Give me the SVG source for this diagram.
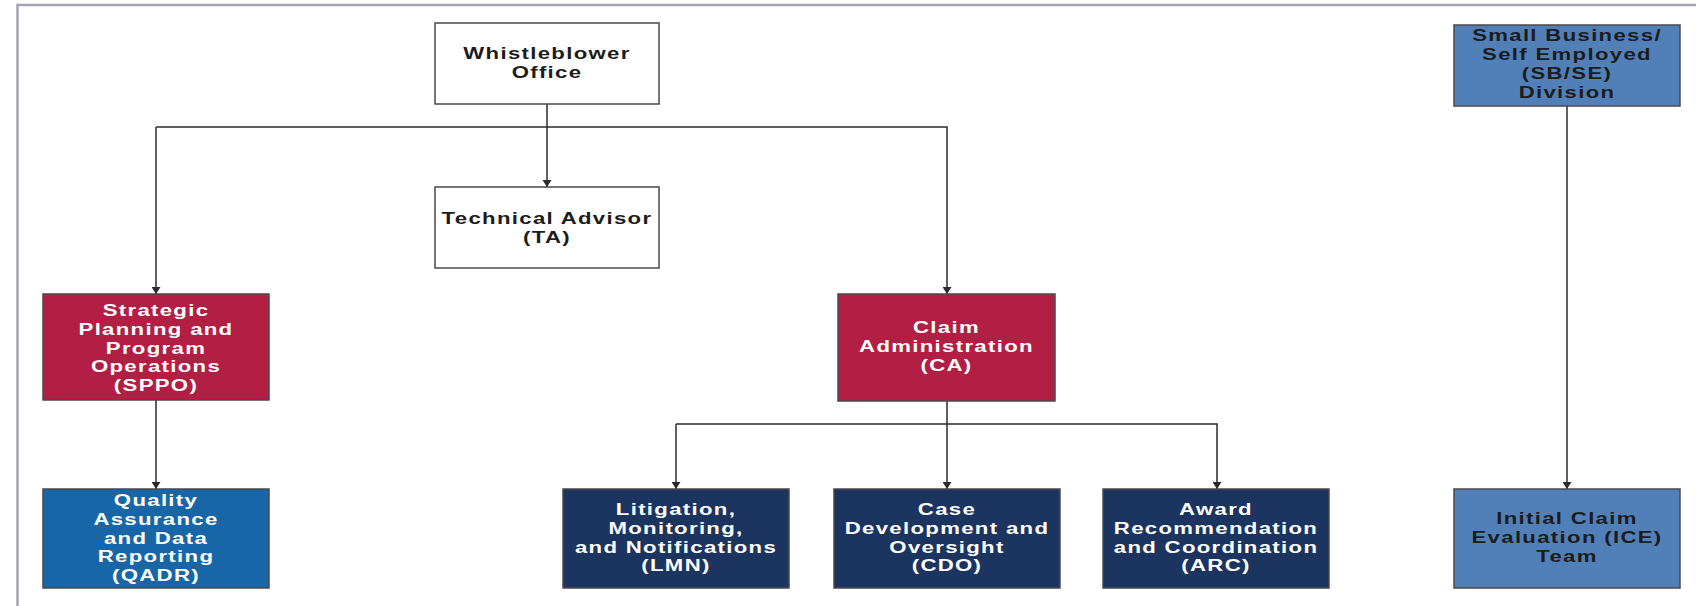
<svg xmlns="http://www.w3.org/2000/svg" width="1696" height="606" viewBox="0 0 1696 606">
<defs>
<style>
.frame{stroke:#a3a3b4;stroke-width:2.5;fill:none}
.box{stroke:#4a4a4a;stroke-width:1.5}
.white{fill:#ffffff}
.crimson{fill:#b21e44}
.blue{fill:#1767a8}
.navy{fill:#1b3460}
.steel{fill:#5180b8}
.conn{stroke:#2b2b2b;stroke-width:1.5;fill:none}
text{font-family:"Liberation Sans",Arial,sans-serif;font-weight:700;font-size:16.8px;text-anchor:middle;letter-spacing:1px}
.dark{fill:#1c1c1c}
.light{fill:#ffffff}
</style>
<marker id="arr" markerUnits="userSpaceOnUse" markerWidth="9" markerHeight="9" refX="7" refY="4.5" orient="auto">
<path d="M0,0 L7,4.5 L0,9 z" fill="#2b2b2b"/>
</marker>
</defs>
<rect x="0" y="0" width="1696" height="606" fill="#ffffff"/>
<path class="frame" d="M17.5,606 V5 H1696"/>

<g id="connectors">
<line class="conn" x1="547" y1="104" x2="547" y2="187" marker-end="url(#arr)"/>
<polyline class="conn" points="156,127 947,127 947,294" marker-end="url(#arr)"/>
<line class="conn" x1="156" y1="127" x2="156" y2="294" marker-end="url(#arr)"/>
<line class="conn" x1="156" y1="400" x2="156" y2="489" marker-end="url(#arr)"/>
<line class="conn" x1="947" y1="401" x2="947" y2="489" marker-end="url(#arr)"/>
<polyline class="conn" points="676,424 1217,424 1217,489" marker-end="url(#arr)"/>
<line class="conn" x1="676" y1="424" x2="676" y2="489" marker-end="url(#arr)"/>
<line class="conn" x1="1567" y1="106" x2="1567" y2="489" marker-end="url(#arr)"/>
</g>

<g id="wb">
<rect class="box white" x="435" y="23" width="224" height="81"/>
<g transform="translate(547,0) scale(1.32,1)" class="dark">
<text x="0" y="59.5">Whistleblower</text>
<text x="0" y="78.3">Office</text>
</g>
</g>

<g id="ta">
<rect class="box white" x="435" y="187" width="224" height="81"/>
<g transform="translate(547,0) scale(1.32,1)" class="dark">
<text x="0" y="224">Technical Advisor</text>
<text x="0" y="242.8">(TA)</text>
</g>
</g>

<g id="sppo">
<rect class="box crimson" x="43" y="294" width="226" height="106"/>
<g transform="translate(156,0) scale(1.32,1)" class="light">
<text x="0" y="316">Strategic</text>
<text x="0" y="334.8">Planning and</text>
<text x="0" y="353.6">Program</text>
<text x="0" y="372.4">Operations</text>
<text x="0" y="391.2">(SPPO)</text>
</g>
</g>

<g id="ca">
<rect class="box crimson" x="838" y="294" width="217" height="107"/>
<g transform="translate(946.5,0) scale(1.32,1)" class="light">
<text x="0" y="333">Claim</text>
<text x="0" y="351.8">Administration</text>
<text x="0" y="370.6">(CA)</text>
</g>
</g>

<g id="qadr">
<rect class="box blue" x="43" y="489" width="226" height="99"/>
<g transform="translate(156,0) scale(1.32,1)" class="light">
<text x="0" y="506">Quality</text>
<text x="0" y="524.8">Assurance</text>
<text x="0" y="543.6">and Data</text>
<text x="0" y="562.4">Reporting</text>
<text x="0" y="581.2">(QADR)</text>
</g>
</g>

<g id="lmn">
<rect class="box navy" x="563" y="489" width="226" height="99"/>
<g transform="translate(676,0) scale(1.32,1)" class="light">
<text x="0" y="515">Litigation,</text>
<text x="0" y="533.8">Monitoring,</text>
<text x="0" y="552.6">and Notifications</text>
<text x="0" y="571.4">(LMN)</text>
</g>
</g>

<g id="cdo">
<rect class="box navy" x="834" y="489" width="226" height="99"/>
<g transform="translate(947,0) scale(1.32,1)" class="light">
<text x="0" y="515">Case</text>
<text x="0" y="533.8">Development and</text>
<text x="0" y="552.6">Oversight</text>
<text x="0" y="571.4">(CDO)</text>
</g>
</g>

<g id="arc">
<rect class="box navy" x="1103" y="489" width="226" height="99"/>
<g transform="translate(1216,0) scale(1.32,1)" class="light">
<text x="0" y="515">Award</text>
<text x="0" y="533.8">Recommendation</text>
<text x="0" y="552.6">and Coordination</text>
<text x="0" y="571.4">(ARC)</text>
</g>
</g>

<g id="sbse">
<rect class="box steel" x="1454" y="25" width="226" height="81"/>
<g transform="translate(1567,0) scale(1.32,1)" class="dark">
<text x="0" y="41.5">Small Business/</text>
<text x="0" y="60.3">Self Employed</text>
<text x="0" y="79.1">(SB/SE)</text>
<text x="0" y="97.9">Division</text>
</g>
</g>

<g id="ice">
<rect class="box steel" x="1454" y="489" width="226" height="99"/>
<g transform="translate(1567,0) scale(1.32,1)" class="dark">
<text x="0" y="524.5">Initial Claim</text>
<text x="0" y="543.3">Evaluation (ICE)</text>
<text x="0" y="562.1">Team</text>
</g>
</g>
</svg>
